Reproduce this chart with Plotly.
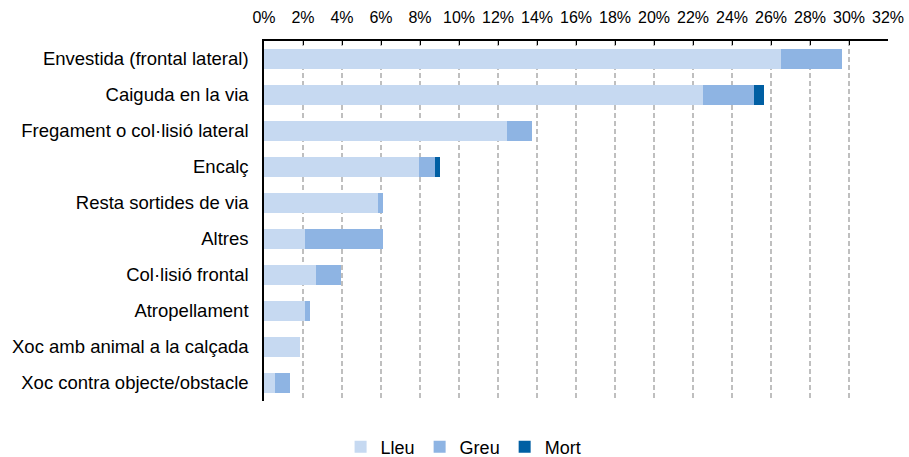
import plotly.graph_objects as go

categories = [
    "Envestida (frontal lateral)",
    "Caiguda en la via",
    "Fregament o col·lisió lateral",
    "Encalç",
    "Resta sortides de via",
    "Altres",
    "Col·lisió frontal",
    "Atropellament",
    "Xoc amb animal a la calçada",
    "Xoc contra objecte/obstacle",
]
lleu = [26.5, 22.5, 12.45, 7.95, 5.85, 2.1, 2.65, 2.1, 1.87, 0.55]
greu = [3.15, 2.65, 1.3, 0.8, 0.25, 4.0, 1.3, 0.27, 0.0, 0.77]
mort = [0.0, 0.5, 0.0, 0.27, 0.0, 0.0, 0.0, 0.0, 0.0, 0.0]

series = [("Lleu", lleu, "#C6D9F1"), ("Greu", greu, "#8EB4E3"), ("Mort", mort, "#005FA3")]

fig = go.Figure()
for name, vals, color in series:
    fig.add_trace(go.Bar(
        name=name, y=categories, x=vals, orientation="h",
        marker=dict(color=color, line=dict(width=0)),
        hovertemplate="%{y}: %{x}%<extra>" + name + "</extra>",
    ))

font_family = "Liberation Sans, Arial, sans-serif"
fig.update_layout(
    barmode="stack",
    bargap=0.44,
    width=909, height=457,
    margin=dict(l=264, r=21, t=41, b=56, pad=0, autoexpand=False),
    paper_bgcolor="white", plot_bgcolor="white",
    font=dict(family=font_family, size=18, color="black"),
    showlegend=True,
    legend=dict(
        orientation="h", xref="container", yref="container",
        x=0.51, xanchor="center", y=0.022, yanchor="middle",
        font=dict(size=18), itemwidth=30, traceorder="normal",
    ),
    xaxis=dict(
        side="top", range=[0, 32], dtick=2, ticksuffix="%",
        ticks="inside", ticklen=4, tickcolor="black", tickwidth=1,
        tickfont=dict(size=16), automargin=False,
        showline=True, linecolor="black", linewidth=2,
        showgrid=True, gridcolor="#BFBFBF", gridwidth=2, griddash="5px,3px",
        zeroline=False, ticklabelstandoff=10, fixedrange=True,
    ),
    yaxis=dict(
        autorange="reversed", showline=True, linecolor="black", linewidth=1.5,
        ticks="", showgrid=False, zeroline=False, ticklabelstandoff=10,
        tickfont=dict(size=18.5), automargin=False,
        fixedrange=True,
    ),
)

fig.write_html("out.html")
